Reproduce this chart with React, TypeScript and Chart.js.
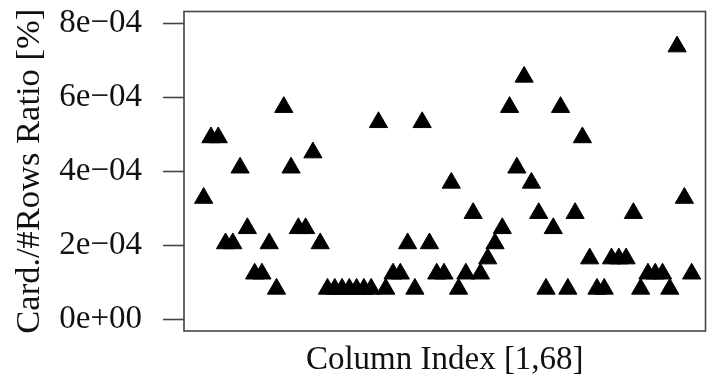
import { useEffect, useRef } from "react";
import { Chart, registerables } from "chart.js";

Chart.register(...registerables);

// Card./#Rows ratio for each of the 68 columns
const cardRatio: number[] = [
  3.28e-4, 4.92e-4, 4.92e-4, 2.05e-4, 2.05e-4, 4.1e-4, 2.46e-4, 1.23e-4, 1.23e-4, 2.05e-4,
  0.82e-4, 5.74e-4, 4.1e-4, 2.46e-4, 2.46e-4, 4.51e-4, 2.05e-4, 0.82e-4, 0.82e-4, 0.82e-4,
  0.82e-4, 0.82e-4, 0.82e-4, 0.82e-4, 5.33e-4, 0.82e-4, 1.23e-4, 1.23e-4, 2.05e-4, 0.82e-4,
  5.33e-4, 2.05e-4, 1.23e-4, 1.23e-4, 3.69e-4, 0.82e-4, 1.23e-4, 2.87e-4, 1.23e-4, 1.64e-4,
  2.05e-4, 2.46e-4, 5.74e-4, 4.1e-4, 6.56e-4, 3.69e-4, 2.87e-4, 0.82e-4, 2.46e-4, 5.74e-4,
  0.82e-4, 2.87e-4, 4.92e-4, 1.64e-4, 0.82e-4, 0.82e-4, 1.64e-4, 1.64e-4, 1.64e-4, 2.87e-4,
  0.82e-4, 1.23e-4, 1.23e-4, 1.23e-4, 0.82e-4, 7.38e-4, 3.28e-4, 1.23e-4,
];

const yTickValues: number[] = [0, 2e-4, 4e-4, 6e-4, 8e-4];
const yTickLabels: string[] = ["0e+00", "2e\u221204", "4e\u221204", "6e\u221204", "8e\u221204"];

const xTitle = "Column Index [1,68]";
const yTitle = "Card./#Rows Ratio [%]";

const FONT = "'Liberation Serif', 'Times New Roman', serif";

const boxPlugin = {
  id: "boxFrame",
  afterDraw(chart: any) {
    const { ctx, chartArea } = chart;
    ctx.save();
    ctx.strokeStyle = "#444";
    ctx.lineWidth = 1.6;
    ctx.strokeRect(chartArea.left, chartArea.top, chartArea.right - chartArea.left, chartArea.bottom - chartArea.top);
    ctx.restore();
  },
};

export default function App() {
  const canvasRef = useRef<HTMLCanvasElement | null>(null);

  useEffect(() => {
    if (!canvasRef.current) return;
    const points = cardRatio.map((v, i) => ({ x: i + 1, y: v }));
    const chart = new Chart(canvasRef.current, {
      type: "scatter",
      data: {
        datasets: [
          {
            data: points,
            pointStyle: "triangle",
            pointRadius: 10.5,
            pointBackgroundColor: "#000",
            pointBorderColor: "#000",
            pointBorderWidth: 1,
          },
        ],
      },
      plugins: [boxPlugin],
      options: {
        animation: false,
        responsive: false,
        devicePixelRatio: 1,
        layout: { padding: { left: 0, top: 5, right: 4, bottom: 0 } },
        plugins: { legend: { display: false }, tooltip: { enabled: false } },
        scales: {
          x: {
            type: "linear",
            min: -1.7,
            max: 69.9,
            border: { display: false },
            grid: { display: false },
            ticks: { display: false },
            title: {
              display: true,
              text: xTitle,
              color: "#111",
              font: { family: FONT, size: 33, lineHeight: 1.2 },
              padding: { top: 0, bottom: 0 },
            },
            afterFit: (scale: any) => {
              scale.height = 49;
              scale.paddingLeft = 0;
              scale.paddingRight = 0;
            },
          },
          y: {
            type: "linear",
            min: -0.32e-4,
            max: 8.33e-4,
            border: { display: false },
            grid: {
              display: true,
              drawOnChartArea: false,
              drawTicks: true,
              tickLength: 21,
              tickColor: "#444",
              tickWidth: 1.6,
            },
            afterBuildTicks: (scale: any) => {
              scale.ticks = yTickValues.map((v) => ({ value: v }));
            },
            ticks: {
              padding: 21,
              color: "#111",
              font: { family: FONT, size: 33 },
              callback: (_v: any, index: number) => yTickLabels[index],
            },
            title: {
              display: true,
              text: yTitle,
              color: "#111",
              font: { family: FONT, size: 34.5, lineHeight: 1.2 },
              padding: { top: 9, bottom: 0 },
            },
            afterFit: (scale: any) => {
              scale.width = 184;
              scale.paddingTop = 0;
              scale.paddingBottom = 0;
            },
          },
        },
      },
    });
    return () => chart.destroy();
  }, []);

  return (
    <div style={{ position: "fixed", left: 0, top: 0, width: 717, height: 380, background: "#fff" }}>
      <canvas ref={canvasRef} width={717} height={380} />
    </div>
  );
}
